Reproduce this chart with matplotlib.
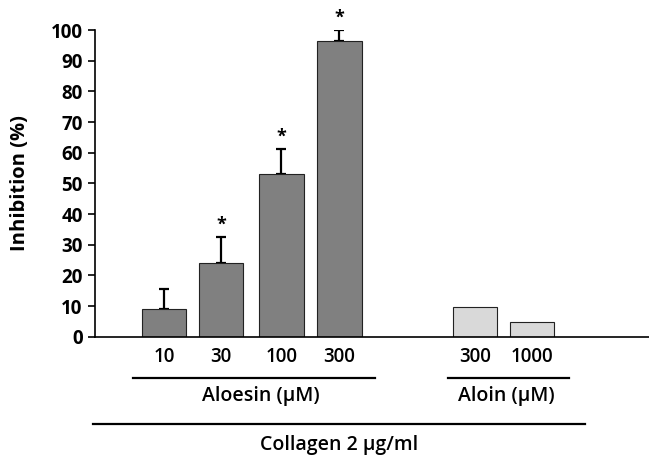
import matplotlib.pyplot as plt
import matplotlib.transforms as mtransforms

plt.rcParams['font.family'] = ['Open Sans', 'DejaVu Sans']

aloesin_doses = ['10', '30', '100', '300']
aloesin_values = [8.9, 24.2, 53.0, 96.5]
aloesin_err = [6.7, 8.4, 8.2, 3.5]
aloesin_sig = [False, True, True, True]

aloin_doses = ['300', '1000']
aloin_values = [9.6, 4.7]

fig = plt.figure(figsize=(6.49, 4.59), dpi=100)
ax = fig.add_axes([0.1464, 0.2664, 0.854, 0.668])

pos_a = [1, 1.98, 3.02, 4.02]
pos_b = [6.36, 7.34]

ax.bar(pos_a, aloesin_values, width=0.77, color='#808080', edgecolor='#222222', linewidth=0.8, zorder=2)
ax.errorbar(pos_a, aloesin_values, yerr=[[0] * 4, aloesin_err], fmt='none',
            ecolor='black', elinewidth=1.6, capsize=3.8, capthick=1.6, zorder=1)
for x, v, e, s in zip(pos_a, aloesin_values, aloesin_err, aloesin_sig):
    if s:
        ax.text(x, v + e + 2.4, '*', ha='center', va='baseline', fontsize=13, fontweight='bold')

ax.bar(pos_b, aloin_values, width=0.75, color='#d9d9d9', edgecolor='#222222', linewidth=0.8, zorder=2)

ax.set_xlim(-0.19, 9.36)
ax.set_ylim(0, 100)
ax.set_yticks(range(0, 101, 10))
ax.set_xticks(pos_a + pos_b, aloesin_doses + aloin_doses)
ax.tick_params(axis='x', length=0, pad=7.5, labelsize=13.5)
ax.tick_params(axis='y', length=5, width=1.2, pad=4, labelsize=13.5)
for t in ax.get_yticklabels():
    t.set_fontweight('bold')
for t in ax.get_xticklabels():
    t.set_fontweight('semibold')
for sp in ['top', 'right']:
    ax.spines[sp].set_visible(False)
ax.spines['left'].set_linewidth(1.2)
ax.spines['bottom'].set_linewidth(1.2)

ax.set_ylabel('Inhibition (%)', fontsize=14.5, fontweight='bold', va='center')
ax.yaxis.set_label_coords(-0.135, 0.5)

tr = mtransforms.blended_transform_factory(ax.transData, ax.transAxes)


def bracket(x0, x1, y, label, lx, ly):
    ax.plot([x0, x1], [y, y], color='black', lw=1.6, transform=tr, clip_on=False)
    ax.text(lx, ly, label, transform=tr, ha='center', va='center',
            fontsize=14, fontweight='semibold')


bracket(0.47, 4.64, -0.1356, 'Aloesin (\u03bcM)', 2.66, -0.193)
bracket(5.90, 7.97, -0.1356, 'Aloin (\u03bcM)', 6.90, -0.193)
bracket(-0.22, 8.26, -0.2856, 'Collagen 2 \u03bcg/ml', 4.02, -0.353)

fig.savefig('out.png', dpi=100)
